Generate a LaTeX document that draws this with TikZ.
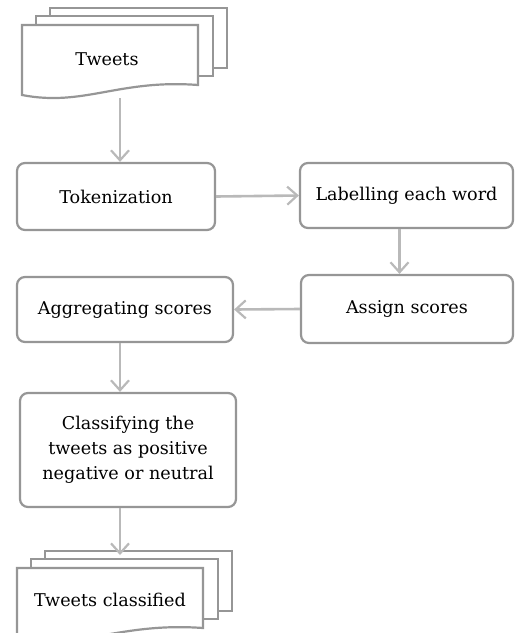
\documentclass[tikz,border=0pt]{standalone}
\usepackage{fontspec}
\setmainfont{DejaVu Serif}
\usepackage{tikz}
\usetikzlibrary{arrows.meta, positioning, calc}
\usepackage{xcolor}
\definecolor{boxline}{RGB}{150,150,150}
\definecolor{flowline}{RGB}{185,185,185}

\tikzset{
  stepbox/.style={draw=boxline, line width=1.1pt, rounded corners=4pt, fill=white,
    align=center, font=\fontsize{8.8}{12.5}\selectfont, inner sep=2pt},
  flow/.style={draw=flowline, line width=1.3pt,
    -{Straight Barb[length=5pt, width=9pt, line width=1.1pt]}},
  sheet/.style={draw=boxline, line width=1.1pt, fill=white},
}

% stack of three documents: left, top, width, height of the front sheet
\newcommand{\docstack}[4]{%
  \draw[sheet] (#1+28,#2-17) rectangle (#1+#3+29,#2+#4-27);
  \draw[sheet] (#1+14,#2-9) rectangle (#1+#3+15,#2+#4-19);
  \draw[sheet] (#1+#3,#2+#4-10) -- (#1+#3,#2) -- (#1,#2) -- (#1,#2+#4)
    .. controls (#1+0.35*#3,#2+#4+12) and (#1+0.55*#3,#2+#4-16) .. cycle;
}

\begin{document}
\begin{tikzpicture}[x=0.5pt, y=-0.5pt]
  \useasboundingbox (0,0) rectangle (515,633);

  % input and output documents
  \docstack{22}{25}{176}{70}
  \docstack{17}{568}{186}{70}
  \node[font=\fontsize{8.8}{12}\selectfont] (tweets) at (107,59) {Tweets};
  \node[font=\fontsize{8.8}{12}\selectfont] (classified) at (110,600) {Tweets classified};
  \coordinate (tweetsout) at (120,98);
  \coordinate (classin) at (120,555);

  % steps
  \node[stepbox, minimum width=99pt, minimum height=33.5pt] (tok) at (116,196.5) {Tokenization};
  \node[stepbox, minimum width=106.5pt, minimum height=32.5pt] (label) at (406.5,195.5) {Labelling each word};
  \node[stepbox, minimum width=106pt, minimum height=34pt] (assign) at (407,309) {Assign scores};
  \node[stepbox, minimum width=108pt, minimum height=32.5pt] (aggr) at (125,309.5) {Aggregating scores};
  \node[stepbox, minimum width=108pt, minimum height=57pt] (classify) at (128,450)
    {Classifying the\\tweets as positive\\negative or neutral};

  % connectors
  \draw[flow] (tweetsout) -- (tweetsout |- tok.north);
  \draw[flow] (tok.east) -- (label.west);
  \draw[flow] ([xshift=-3.5pt]label.south) -- ([xshift=-3.5pt]label.south |- assign.north);
  \draw[flow] (assign.west) -- (aggr.east);
  \draw[flow] (aggr.south -| tweetsout) -- (tweetsout |- classify.north);
  \draw[flow] (classify.south -| classin) -- (classin);
\end{tikzpicture}
\end{document}
